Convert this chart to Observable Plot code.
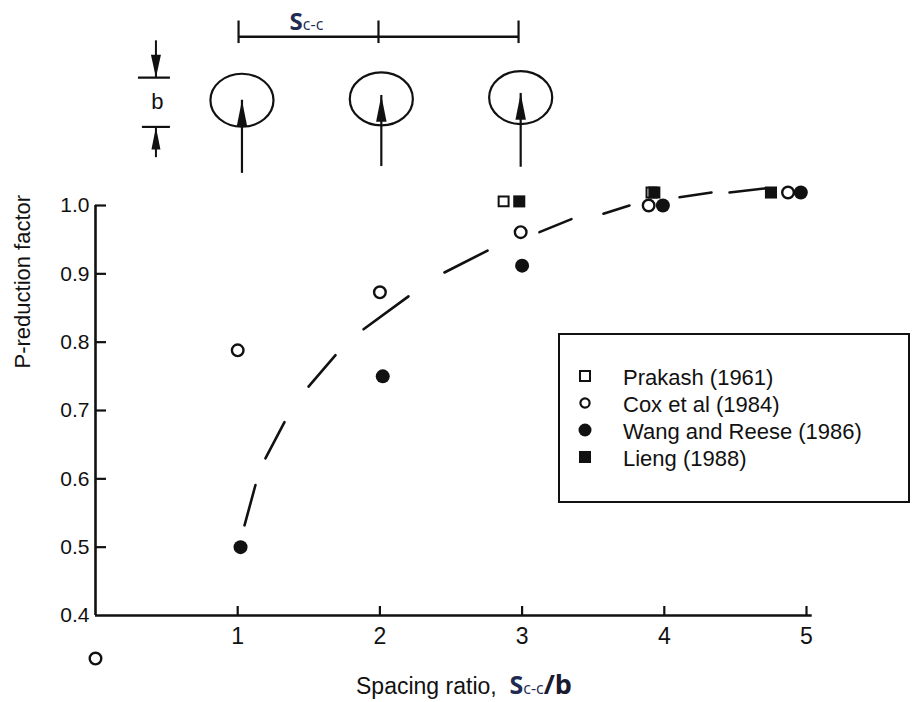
<!DOCTYPE html>
<html>
<head>
<meta charset="utf-8">
<script src="https://cdn.jsdelivr.net/npm/d3@7"></script>
<script src="https://cdn.jsdelivr.net/npm/@observablehq/plot@0.6"></script>
<style>
  body { margin: 0; background: #fff; font-family: "Liberation Sans", Arial, Helvetica, sans-serif; }
  #wrap { position: relative; width: 912px; height: 702px; overflow: hidden; background: #fff; }
  #legend { position: absolute; left: 558px; top: 333px; width: 352px; height: 170px; box-sizing: border-box;
            border: 2px solid #111; padding-top: 29px; color: #111; }
  .row { display: flex; align-items: center; height: 27px; line-height: 27px; font-size: 22px; }
  .row svg { margin-left: 18px; margin-right: 31px; position: relative; top: -2px; flex: none; }
</style>
</head>
<body>
<div id="wrap">
  <div id="chart"></div>
  <div id="legend"></div>
</div>
<script>
// ---------- data ----------
const xTicks = [1, 2, 3, 4, 5];
const yTicks = [0.4, 0.5, 0.6, 0.7, 0.8, 0.9, 1.0];
const yInnerTicks = [0.5, 0.6, 0.7, 0.8, 0.9, 1.0];

const seriesNames = ["Prakash (1961)", "Cox et al (1984)", "Wang and Reese (1986)", "Lieng (1988)"];

const prakashX = [2.87, 3.91];
const prakashY = [1.006, 1.019];
const coxX = [0.0, 1.0, 2.0, 2.99, 3.89, 4.87];
const coxY = [0.337, 0.788, 0.873, 0.961, 1.0, 1.019];
const wangX = [1.02, 2.02, 3.0, 3.99, 4.96];
const wangY = [0.5, 0.75, 0.912, 1.0, 1.019];
const liengX = [2.98, 3.93, 4.75];
const liengY = [1.006, 1.019, 1.019];

// hand-drawn dashed trend curve: dash id with its end points
const curveDash = [1, 1, 2, 2, 3, 3, 4, 4, 5, 5, 6, 6, 7, 7, 8, 8, 9, 9];
const curveX = [1.048, 1.125, 1.195, 1.329, 1.498, 1.688, 1.885, 2.201, 2.454, 2.757, 3.122, 3.347, 3.572, 3.755, 4.107, 4.332, 4.459, 4.705];
const curveY = [0.532, 0.591, 0.630, 0.683, 0.735, 0.781, 0.819, 0.867, 0.902, 0.934, 0.961, 0.980, 0.988, 1.000, 1.012, 1.019, 1.019, 1.025];

// schematic of the pile row above the chart (in chart units)
const pileX = [1.03, 2.01, 2.99];
const pileCenterY = [1.154, 1.156, 1.158];
const pileTipY = [1.154, 1.161, 1.164];
const pileBaseY = [1.047, 1.057, 1.056];
const spacingTickX = [1.006, 1.99, 2.975];
const spacingLineY = 1.247;
const spacingTickY = [1.237, 1.270];
const bX = 0.425;
const bLineY = [1.187, 1.115];
const bLineX1 = [0.302, 0.33];
const bLineX2 = 0.527;
const bShaftDown = [1.241, 1.187];
const bShaftUp = [1.070, 1.115];

const xLabel = "Spacing ratio, Sc-c/b";
const yLabel = "P-reduction factor";
const spacingLabel = ["S", "c-c"];
const diameterLabel = "b";

// ---------- tables ----------
const zip = (xs, ys) => xs.map((x, i) => ({x, y: ys[i]}));
const prakash = zip(prakashX, prakashY);
const cox = zip(coxX, coxY);
const wang = zip(wangX, wangY);
const lieng = zip(liengX, liengY);
const curve = curveX.map((x, i) => ({x, y: curveY[i], dash: curveDash[i]}));
const piles = pileX.map((x, i) => ({x, c: pileCenterY[i], tip: pileTipY[i], base: pileBaseY[i]}));

// custom symbols
const ellipse = {draw(ctx, size) {
  const r = Math.sqrt(size / Math.PI), rx = r * 1.19, ry = r, k = 0.5523;
  ctx.moveTo(rx, 0);
  ctx.bezierCurveTo(rx, ry * k, rx * k, ry, 0, ry);
  ctx.bezierCurveTo(-rx * k, ry, -rx, ry * k, -rx, 0);
  ctx.bezierCurveTo(-rx, -ry * k, -rx * k, -ry, 0, -ry);
  ctx.bezierCurveTo(rx * k, -ry, rx, -ry * k, rx, 0);
  ctx.closePath();
}};
const headUp = {draw(ctx, size) {
  const r = Math.sqrt(size / Math.PI), L = 2.5 * r, hw = 0.5 * r;
  ctx.moveTo(0, 0); ctx.lineTo(-hw, L); ctx.lineTo(hw, L); ctx.closePath();
}};
const headDown = {draw(ctx, size) {
  const r = Math.sqrt(size / Math.PI), L = 2.3 * r, hw = 0.5 * r;
  ctx.moveTo(0, 0); ctx.lineTo(-hw, -L); ctx.lineTo(hw, -L); ctx.closePath();
}};

const W = 912, H = 702, mL = 95, mR = 106, mT = 205, mB = 87;
const frameW = W - mL - mR, frameH = H - mT - mB;
const ink = "#111";
const navy = "#1f2b52";

const chart = Plot.plot({
  width: W, height: H,
  marginLeft: mL, marginRight: mR, marginTop: mT, marginBottom: mB,
  x: {domain: [0, 5]},
  y: {domain: [0.4, 1.0]},
  style: {fontFamily: '"Liberation Sans", Arial, Helvetica, sans-serif', color: ink, background: "white"},
  marks: [
    Plot.axisX(xTicks, {tickSize: 0, tickPadding: 12, fontSize: 23, tickFormat: d3.format("d"), label: null}),
    Plot.axisY(yTicks, {tickSize: 0, tickPadding: 6, fontSize: 21, tickFormat: d3.format(".1f"), label: null}),
    // axis lines and inward ticks
    Plot.ruleX([0], {y1: 0.4, y2: 1.0, stroke: ink, strokeWidth: 2.6}),
    Plot.ruleY([0.4], {x1: 0, x2: 5.04, stroke: ink, strokeWidth: 2.6}),
    Plot.tickX(xTicks, {x: d => d, insetTop: frameH - 9, stroke: ink, strokeWidth: 2.2}),
    Plot.tickY(yInnerTicks, {y: d => d, insetRight: frameW - 11, stroke: ink, strokeWidth: 2.2}),
    // axis titles
    Plot.text([yLabel], {text: d => d, frameAnchor: "left", rotate: -90, dx: -73, dy: -42, fontSize: 22, fill: ink}),
    Plot.text([xLabel], {text: d => d, frameAnchor: "bottom", lineAnchor: "bottom", dx: 13, dy: 78, fontSize: 23, fill: ink}),
    // dashed trend curve
    Plot.line(curve, {x: "x", y: "y", z: "dash", stroke: ink, strokeWidth: 2.6, strokeLinecap: "round"}),
    // data series
    Plot.dot(prakash, {x: "x", y: "y", symbol: "square", r: 5.6, stroke: ink, strokeWidth: 2, fill: "white"}),
    Plot.dot(cox, {x: "x", y: "y", r: 5.8, stroke: ink, strokeWidth: 2.4, fill: "white"}),
    Plot.dot(wang, {x: "x", y: "y", r: 7, fill: ink, stroke: "none"}),
    Plot.dot(lieng, {x: "x", y: "y", symbol: "square", r: 6.8, fill: ink, stroke: "none"}),
    // schematic: spacing dimension
    Plot.ruleY([spacingLineY], {x1: spacingTickX[0], x2: spacingTickX[2], stroke: ink, strokeWidth: 2.4}),
    Plot.ruleX(spacingTickX, {x: d => d, y1: spacingTickY[0], y2: spacingTickY[1], stroke: ink, strokeWidth: 2.2}),
    Plot.text([spacingLabel[0]], {text: d => d, x: () => (spacingTickX[0] + spacingTickX[1]) / 2 - 0.04, y: () => 1.257,
      textAnchor: "end", lineAnchor: "bottom", fontFamily: '"Open Sans", sans-serif', fontWeight: "bold", fontSize: 24, fill: navy}),
    Plot.text([spacingLabel[1]], {text: d => d, x: () => (spacingTickX[0] + spacingTickX[1]) / 2 - 0.04, y: () => 1.257,
      textAnchor: "start", lineAnchor: "bottom", fontFamily: '"Open Sans", sans-serif', fontSize: 16, fill: navy}),
    // schematic: piles with load arrows
    Plot.dot(piles, {x: "x", y: "c", symbol: ellipse, r: 26.5, stroke: ink, strokeWidth: 2.2, fill: "none"}),
    Plot.ruleX(piles, {x: "x", y1: "base", y2: "tip", stroke: ink, strokeWidth: 2.2}),
    Plot.dot(piles, {x: "x", y: "tip", symbol: headUp, r: 10.5, fill: ink, stroke: "none"}),
    // schematic: diameter b
    Plot.ruleY(bLineY, {y: d => d, x1: (d, i) => bLineX1[i], x2: bLineX2, stroke: ink, strokeWidth: 2.2}),
    Plot.ruleX([bX], {y1: bShaftDown[0], y2: bShaftDown[1], stroke: ink, strokeWidth: 2}),
    Plot.dot([bX], {x: d => d, y: () => bShaftDown[1], symbol: headDown, r: 10, fill: ink, stroke: "none"}),
    Plot.ruleX([bX], {y1: bShaftUp[0], y2: bShaftUp[1], stroke: ink, strokeWidth: 2}),
    Plot.dot([bX], {x: d => d, y: () => bShaftUp[1], symbol: headUp, r: 9, fill: ink, stroke: "none"}),
    Plot.text([diameterLabel], {text: d => d, x: () => bX + 0.011, y: () => (bLineY[0] + bLineY[1]) / 2, fontSize: 22, fill: ink})
  ]
});
document.getElementById("chart").appendChild(chart);

// rich x-axis title: Spacing ratio, S(c-c)/b
const xl = Array.from(chart.querySelectorAll("text")).find(t => t.textContent === xLabel);
if (xl) {
  const t = d3.select(xl).text(null);
  t.append("tspan").text("Spacing ratio,\u00A0 ");
  t.append("tspan").attr("font-family", '"Open Sans", sans-serif').attr("font-weight", "bold").attr("font-size", 25).attr("fill", navy).text("S");
  t.append("tspan").attr("font-family", '"Open Sans", sans-serif').attr("font-size", 16).attr("fill", navy).text("c-c");
  t.append("tspan").attr("font-family", '"Open Sans", sans-serif').attr("font-weight", "bold").attr("font-size", 27).attr("fill", "#1a1a30").text("/b");
}

// legend
const markers = [
  '<svg width="14" height="14"><rect x="2" y="2" width="10" height="10" fill="white" stroke="#111" stroke-width="2"/></svg>',
  '<svg width="14" height="14"><circle cx="7" cy="7" r="4.6" fill="white" stroke="#111" stroke-width="2.2"/></svg>',
  '<svg width="14" height="14"><circle cx="7" cy="7" r="6.5" fill="#111"/></svg>',
  '<svg width="14" height="14"><rect x="1" y="1" width="12" height="12" fill="#111"/></svg>'
];
const legend = d3.select("#legend");
seriesNames.forEach((name, i) => {
  const row = legend.append("div").attr("class", "row");
  row.html(markers[i]);
  row.append("span").text(name);
});
</script>
</body>
</html>
